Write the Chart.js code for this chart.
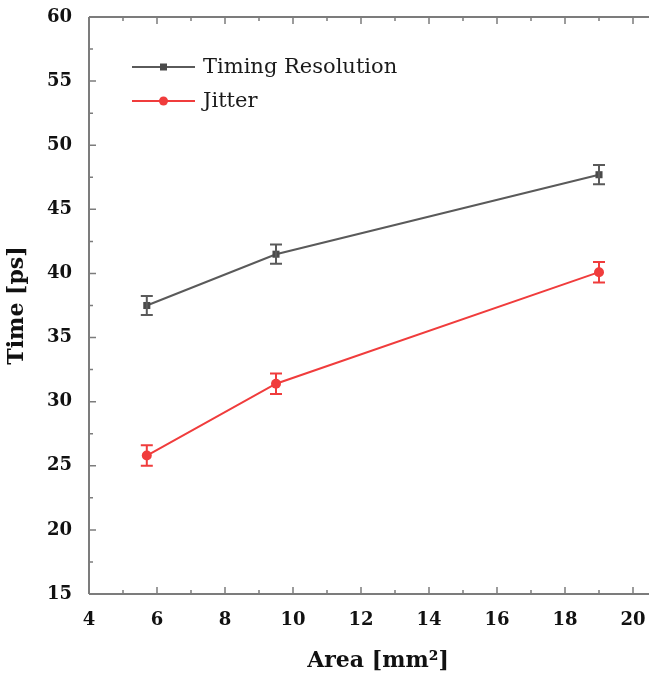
<!DOCTYPE html>
<html>
<head>
<meta charset="utf-8">
<script src="https://cdn.jsdelivr.net/npm/chart.js@4/dist/chart.umd.min.js"></script>
<style>
  html, body { margin: 0; padding: 0; background: #fff; overflow: hidden; }
  #wrap { width: 672px; height: 678px; }
</style>
</head>
<body>
<div id="wrap"><canvas id="chart1" width="672" height="678"></canvas></div>
<script>
// DATA
const areas = [5.7, 9.5, 19.0];
const timingRes = [37.5, 41.5, 47.7];
const timingErr = [0.75, 0.75, 0.75];
const jitter = [25.8, 31.4, 40.1];
const jitterErr = [0.8, 0.8, 0.8];
const xTicks = [4, 6, 8, 10, 12, 14, 16, 18, 20];
const yTicks = [15, 20, 25, 30, 35, 40, 45, 50, 55, 60];

const AXIS = '#7c7c7c';
const GRAY = '#4a4a4a';
const RED = '#f03c3c';

function pts(xs, ys) {
    return xs.map((x, i) => ({ x: x, y: ys[i] }));
}

// error bars drawn from the y scale
const errorBars = {
    id: 'errorBars',
    afterDatasetsDraw(chart) {
        const ctx = chart.ctx;
        const yScale = chart.scales.y;
        chart.data.datasets.forEach((ds, i) => {
            const meta = chart.getDatasetMeta(i);
            ctx.save();
            ctx.strokeStyle = ds.borderColor;
            ctx.lineWidth = 2;
            meta.data.forEach((el, j) => {
                const v = ds.data[j].y;
                const e = ds.errors[j];
                const y1 = yScale.getPixelForValue(v + e);
                const y2 = yScale.getPixelForValue(v - e);
                ctx.beginPath();
                ctx.moveTo(el.x, y1); ctx.lineTo(el.x, y2);
                ctx.moveTo(el.x - 6, y1); ctx.lineTo(el.x + 6, y1);
                ctx.moveTo(el.x - 6, y2); ctx.lineTo(el.x + 6, y2);
                ctx.stroke();
            });
            ctx.restore();
        });
    }
};

// frame with inward ticks
const frame = {
    id: 'frame',
    afterDraw(chart) {
        const ctx = chart.ctx;
        const a = chart.chartArea;
        const xs = chart.scales.x, ys = chart.scales.y;
        ctx.save();
        ctx.strokeStyle = AXIS;
        ctx.lineWidth = 2;
        ctx.beginPath();
        ctx.moveTo(a.left, a.top); ctx.lineTo(a.right, a.top);
        ctx.moveTo(a.left, a.top); ctx.lineTo(a.left, a.bottom);
        ctx.moveTo(a.left, a.bottom); ctx.lineTo(a.right, a.bottom);
        ctx.stroke();
        ctx.lineWidth = 1.5;
        ctx.beginPath();
        for (let v = xs.min; v <= xs.max; v += 1) {
            const p = xs.getPixelForValue(v);
            const len = (v % 2 === 0) ? 7 : 4;
            ctx.moveTo(p, a.bottom); ctx.lineTo(p, a.bottom - len);
            ctx.moveTo(p, a.top); ctx.lineTo(p, a.top + len);
        }
        for (let v = ys.min; v <= ys.max; v += 2.5) {
            const p = ys.getPixelForValue(v);
            const len = (v % 5 === 0) ? 7 : 4;
            ctx.moveTo(a.left, p); ctx.lineTo(a.left + len, p);
        }
        ctx.stroke();
        ctx.restore();
    }
};

// legend inside the plot
const insideLegend = {
    id: 'insideLegend',
    afterDraw(chart) {
        const ctx = chart.ctx;
        const a = chart.chartArea;
        ctx.save();
        chart.data.datasets.forEach((ds, i) => {
            const y = a.top + 50 + i * 34;
            const x0 = a.left + 43, x1 = a.left + 106;
            const xm = (x0 + x1) / 2;
            ctx.strokeStyle = ds.borderColor;
            ctx.lineWidth = 2;
            ctx.beginPath(); ctx.moveTo(x0, y); ctx.lineTo(x1, y); ctx.stroke();
            ctx.fillStyle = ds.pointBackgroundColor;
            if (ds.pointStyle === 'rect') {
                ctx.fillRect(xm - 3.5, y - 3.5, 7, 7);
            } else {
                ctx.beginPath(); ctx.arc(xm, y, 4.5, 0, Math.PI * 2); ctx.fill();
            }
            ctx.fillStyle = '#1a1a1a';
            ctx.font = '21px "DejaVu Serif"';
            ctx.textBaseline = 'middle';
            ctx.fillText(ds.label, x1 + 8, y + 1);
        });
        ctx.restore();
    }
};

let ctx1 = document.getElementById('chart1').getContext('2d');
let myChart1 = new Chart(ctx1, {
    type: 'scatter',
    data: {
        datasets: [
            {
                label: 'Timing Resolution',
                data: pts(areas, timingRes),
                errors: timingErr,
                showLine: true,
                borderColor: '#5a5a5a',
                borderWidth: 2,
                pointStyle: 'rect',
                pointRadius: 5,
                pointBackgroundColor: GRAY,
                pointBorderColor: GRAY,
                pointBorderWidth: 0
            },
            {
                label: 'Jitter',
                data: pts(areas, jitter),
                errors: jitterErr,
                showLine: true,
                borderColor: RED,
                borderWidth: 2,
                pointStyle: 'circle',
                pointRadius: 5,
                pointBackgroundColor: RED,
                pointBorderColor: RED,
                pointBorderWidth: 0
            }
        ]
    },
    options: {
        responsive: false,
        animation: false,
        layout: { padding: { top: 17, left: 0, right: 0, bottom: 0 } },
        plugins: {
            legend: { display: false },
            tooltip: { enabled: false }
        },
        scales: {
            x: {
                type: 'linear',
                min: 4,
                max: 21,
                afterBuildTicks: s => { s.ticks = xTicks.map(v => ({ value: v })); },
                afterFit: s => { s.height = 84; s.paddingLeft = 0; s.paddingRight = 0; },
                grid: { display: false },
                border: { display: false },
                ticks: {
                    color: '#111',
                    padding: 8,
                    maxRotation: 0,
                    font: { family: '"DejaVu Serif"', size: 18, weight: 'bold' }
                },
                title: {
                    display: true,
                    text: 'Area [mm²]',
                    color: '#111',
                    padding: { top: 12 },
                    font: { family: '"DejaVu Serif"', size: 22, weight: 'bold' }
                }
            },
            y: {
                type: 'linear',
                min: 15,
                max: 60,
                afterBuildTicks: s => { s.ticks = yTicks.map(v => ({ value: v })); },
                afterFit: s => { s.width = 89; s.paddingTop = 0; s.paddingBottom = 0; },
                grid: { display: false },
                border: { display: false },
                ticks: {
                    color: '#111',
                    padding: 9,
                    font: { family: '"DejaVu Serif"', size: 18, weight: 'bold' }
                },
                title: {
                    display: true,
                    text: 'Time [ps]',
                    color: '#111',
                    padding: { bottom: 0 },
                    font: { family: '"DejaVu Serif"', size: 22, weight: 'bold' }
                }
            }
        }
    },
    plugins: [errorBars, frame, insideLegend]
});
</script>
</body>
</html>
